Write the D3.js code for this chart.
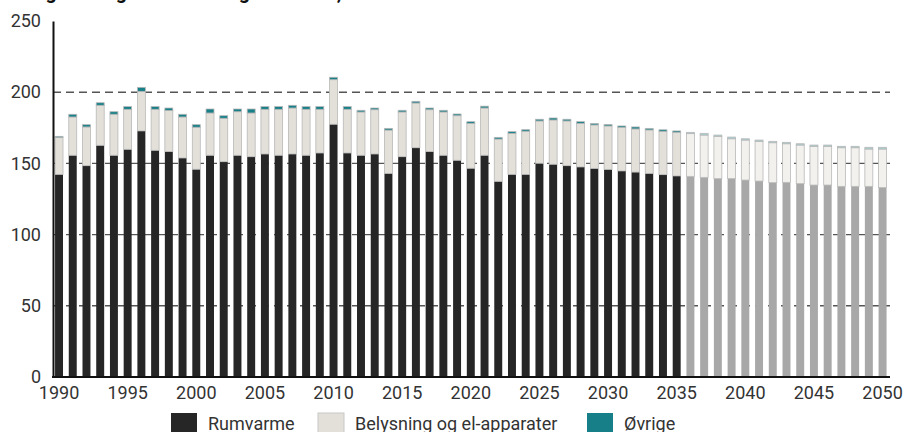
<!DOCTYPE html>
<html>
<head>
<meta charset="utf-8">
<script src="https://cdn.jsdelivr.net/npm/d3@7"></script>
<style>
  body { margin: 0; background: #fff; }
  svg { display: block; font-family: Roboto, "Noto Sans", sans-serif; }
</style>
</head>
<body>
<svg class="chart" width="904" height="432"></svg>
<script>
// data (PJ)
var years = d3.range(1990, 2051);
var rumvarme = [142.3, 155.7, 148.4, 162.7, 155.7, 159.9, 172.8, 159.2, 158.3, 153.8,
  145.9, 155.7, 151.2, 155.7, 154.7, 156.6, 155.7, 156.6, 155.7, 157.3,
  177.5, 157.3, 155.7, 156.6, 143.0, 154.7, 161.0, 158.3, 155.7, 152.2,
  146.6, 155.7, 137.4, 142.3, 142.3, 150.1, 149.4, 148.4, 147.5, 146.5,
  145.8, 144.7, 143.9, 143.0, 142.1, 141.2, 140.9, 140.2, 139.3, 139.3,
  138.3, 137.6, 136.5, 136.7, 135.8, 134.8, 134.8, 133.9, 133.9, 133.9,
  133.0];
var belysning = [25.8, 26.9, 27.2, 28.1, 28.8, 28.1, 27.8, 28.8, 28.8, 28.8,
  29.5, 29.7, 30.5, 30.6, 30.7, 31.4, 32.3, 32.3, 32.3, 30.7,
  31.3, 30.7, 30.4, 31.1, 30.4, 31.4, 31.4, 29.4, 30.4, 31.3,
  31.5, 33.2, 29.7, 28.8, 30.3, 29.7, 31.1, 31.4, 30.6, 30.5,
  30.5, 30.6, 30.3, 30.5, 30.4, 30.6, 30.0, 29.7, 29.7, 28.0,
  28.1, 27.9, 28.0, 27.1, 27.1, 27.2, 27.2, 27.1, 27.1, 26.2,
  27.1];
var ovrige = [0.9, 1.9, 1.6, 1.8, 1.8, 1.9, 2.8, 1.9, 1.8, 1.9,
  1.8, 2.8, 1.8, 1.9, 2.8, 1.9, 1.9, 1.9, 1.9, 1.9,
  1.7, 1.9, 1.2, 1.2, 1.2, 1.2, 1.2, 1.2, 1.2, 1.2,
  1.2, 1.3, 1.2, 1.2, 1.1, 1.2, 1.4, 1.2, 1.2, 1.1,
  1.1, 1.0, 1.4, 1.1, 1.1, 1.0, 0.9, 1.2, 0.9, 1.2,
  0.9, 0.9, 1.0, 1.0, 0.9, 0.9, 0.9, 1.0, 1.0, 1.2,
  1.2];
var seriesNames = ["Rumvarme", "Belysning og el-apparater", "Øvrige"];
var firstProjection = 2036;
var yTicks = [0, 50, 100, 150, 200, 250];
var xTicks = d3.range(1990, 2051, 5);

var colors = ["#262626", "#e3e0da", "#177f87"];
var colorsProj = ["#a8a8a8", "#f2f1ed", "#a6d2d4"];

var rows = years.map(function(y, i) {
  return { year: y, Rumvarme: rumvarme[i], "Belysning og el-apparater": belysning[i], "Øvrige": ovrige[i] };
});

var chart = d3.select(".chart");

var x = d3.scaleBand()
    .domain(years)
    .range([52.3, 889.3])
    .paddingInner(0.42)
    .paddingOuter(0.2);

var y = d3.scaleLinear()
    .domain([0, 250])
    .range([377, 21]);

// title, mostly cut off at the top
chart.append("text")
    .attr("x", 6)
    .attr("y", -1)
    .style("font-size", "19.5px")
    .style("font-weight", "bold")
    .style("fill", "#111")
    .text("Energiforbrug i husholdningssektoren, PJ");

// dashed grid lines
chart.append("g").selectAll("line")
    .data(yTicks.filter(function(d) { return d > 0 && d < 250; }))
    .enter().append("line")
    .attr("x1", 53)
    .attr("x2", 890)
    .attr("y1", function(d) { return y(d); })
    .attr("y2", function(d) { return y(d); })
    .style("stroke", "#555")
    .style("stroke-width", 1.4)
    .style("stroke-dasharray", "8,5");

// stacked bars
var stacked = d3.stack().keys(seriesNames)(rows);

chart.append("g").selectAll("g")
    .data(stacked)
    .enter().append("g")
    .each(function(s, k) {
      d3.select(this).selectAll("rect")
          .data(s)
          .enter().append("rect")
          .attr("x", function(d) { return x(d.data.year); })
          .attr("width", x.bandwidth())
          .attr("y", function(d) { return y(d[1]); })
          .attr("height", function(d) { return y(d[0]) - y(d[1]); })
          .style("fill", function(d) { return d.data.year >= firstProjection ? colorsProj[k] : colors[k]; })
          .style("stroke", k == 0 ? "none" : "#b8b8b8")
          .style("stroke-width", 0.8);
    });

// axes
var yAxis = chart.append("g")
    .attr("transform", "translate(53,0)")
    .call(d3.axisLeft(y).tickValues(yTicks).tickSize(0).tickPadding(12));
yAxis.select(".domain").style("stroke", "#111").style("stroke-width", 2);
yAxis.selectAll("text").style("font-size", "18px").style("fill", "#333").style("font-family", "Roboto");

var xAxis = chart.append("g")
    .attr("transform", "translate(0,377)");
xAxis.append("line")
    .attr("x1", 52)
    .attr("x2", 890)
    .style("stroke", "#111")
    .style("stroke-width", 2);
xAxis.selectAll("text")
    .data(xTicks)
    .enter().append("text")
    .attr("x", function(d) { return x(d) + x.bandwidth() / 2; })
    .attr("y", 16)
    .attr("dy", ".35em")
    .attr("text-anchor", "middle")
    .style("font-size", "18px")
    .style("fill", "#333")
    .text(function(d) { return d; });

// legend
var legendX = [171, 318, 587];
var legend = chart.append("g").selectAll("g")
    .data(seriesNames)
    .enter().append("g")
    .attr("transform", function(d, i) { return "translate(" + legendX[i] + ",413)"; });
legend.append("rect")
    .attr("width", 26)
    .attr("height", 22)
    .style("fill", function(d, i) { return colors[i]; })
    .style("stroke", function(d, i) { return i == 1 ? "#c8c8c8" : "none"; });
legend.append("text")
    .attr("x", 37)
    .attr("y", 11)
    .attr("dy", ".35em")
    .style("font-size", "18px")
    .style("fill", "#333")
    .text(function(d) { return d; });
</script>
</body>
</html>
